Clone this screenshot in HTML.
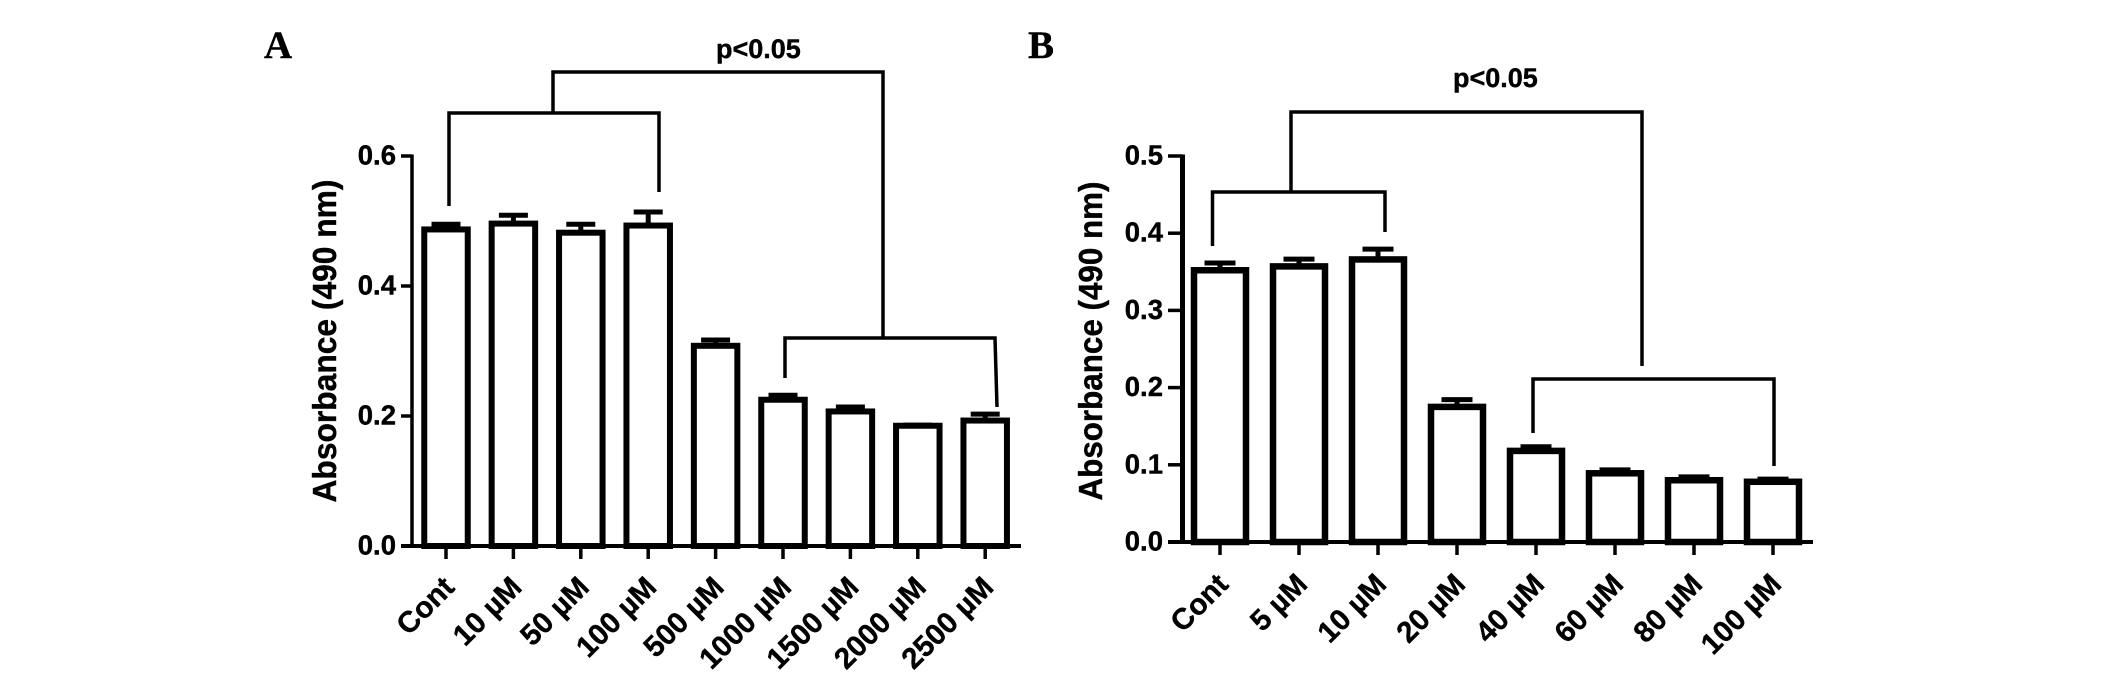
<!DOCTYPE html>
<html lang="en">
<head>
<meta charset="utf-8">
<title>Absorbance bar charts</title>
<style>
html,body{margin:0;padding:0;background:#fff;width:2126px;height:679px;overflow:hidden}
svg{display:block}
text{font-family:"Liberation Sans",Arial,sans-serif;font-weight:bold;fill:#000;stroke:#000;stroke-width:.4}
.panel{font-family:"Liberation Serif","Times New Roman",serif;font-size:39px}
.br{fill:none;stroke:#000;stroke-width:3.5}
</style>
</head>
<body>
<svg id="fig" width="2126" height="679" viewBox="0 0 2126 679" xmlns="http://www.w3.org/2000/svg">
  <text class="panel" x="264" y="58">A</text>
  <text class="panel" x="1028" y="58">B</text>

  <g id="chartA"></g>
  <g id="chartB"></g>

  <g>
    <text x="716" y="58" font-size="27">p&lt;0.05</text>
    <path class="br" d="M553 113V72H883V337"/>
    <path class="br" d="M449 206V113H659V192"/>
    <path class="br" d="M785 378V338H995L997 407"/>
  </g>
  <g>
    <text x="1453" y="87" font-size="27">p&lt;0.05</text>
    <path class="br" d="M1291 192V112H1642V366"/>
    <path class="br" d="M1212.500 246V192H1385V232"/>
    <path class="br" d="M1533 433V379H1774V466"/>
  </g>
</svg>
<script>
var categoriesA = ['Cont', '10 µM', '50 µM', '100 µM', '500 µM', '1000 µM', '1500 µM', '2000 µM', '2500 µM'];
var valuesA = [0.487, 0.496, 0.482, 0.493, 0.308, 0.225, 0.207, 0.185, 0.193];
var errorsA = [0.011, 0.016, 0.016, 0.024, 0.012, 0.010, 0.010, 0.004, 0.013];
var ticksA = [0.0, 0.2, 0.4, 0.6];
var categoriesB = ['Cont', '5 µM', '10 µM', '20 µM', '40 µM', '60 µM', '80 µM', '100 µM'];
var valuesB = [0.352, 0.357, 0.366, 0.175, 0.118, 0.089, 0.080, 0.078];
var errorsB = [0.012, 0.012, 0.016, 0.012, 0.008, 0.007, 0.007, 0.006];
var ticksB = [0.0, 0.1, 0.2, 0.3, 0.4, 0.5];
var axisTitle = 'Absorbance (490 nm)';
var NS = 'http://www.w3.org/2000/svg';

function shape(parent, tag, attrs) {
  var el = document.createElementNS(NS, tag);
  for (var k in attrs) el.setAttribute(k, attrs[k]);
  parent.appendChild(el);
  return el;
}

function drawChart(g, id, cats, vals, errs, ticks, o) {
  function xPos(i) { return o.x0 + o.step * i; }
  function yPos(v) { return o.y0 - o.yPerUnit * v; }

  cats.forEach(function (cat, i) {
    var cx = xPos(i), top = yPos(vals[i]), capY = yPos(vals[i] + errs[i]);

    var stem = shape(g, 'line', {x1: cx, x2: cx, y1: top, y2: capY, stroke: '#000', 'stroke-width': 5});
    
    

    var cap = shape(g, 'line', {x1: cx - o.capW / 2, x2: cx + o.capW / 2, y1: capY + 2, y2: capY + 2, stroke: '#000', 'stroke-width': 5});
    
    

    var bar = shape(g, 'rect', {x: cx - o.barW / 2, y: top, width: o.barW, height: o.y0 - top, fill: '#fff', stroke: '#000', 'stroke-width': o.barStroke});
    
    

    var tick = shape(g, 'line', {x1: cx, x2: cx, y1: o.y0, y2: o.y0 + 13, stroke: '#000', 'stroke-width': 3.5});
    
    

    var endX = cx + 10, endY = o.labelY;
    var label = shape(g, 'text', {x: endX, y: endY, 'font-size': 29.5, 'text-anchor': 'end', transform: 'rotate(-45 ' + endX + ' ' + endY + ')'});
    label.textContent = cat;
    
    
  });

  var yAxis = shape(g, 'line', {x1: o.axisX, x2: o.axisX, y1: yPos(ticks[ticks.length - 1]) - 1.5, y2: o.y0 + 1.5, stroke: '#000', 'stroke-width': o.axisW});
  
  

  var xAxis = shape(g, 'line', {x1: o.tickL, x2: o.xEnd, y1: o.y0, y2: o.y0, stroke: '#000', 'stroke-width': 4});
  
  

  ticks.forEach(function (t, i) {
    var y = yPos(t);
    var tm = shape(g, 'line', {x1: o.tickL, x2: o.axisX, y1: y, y2: y, stroke: '#000', 'stroke-width': 3.5});
    
    

    var tl = shape(g, 'text', {x: o.tickL - 5, y: y + 8.5, 'font-size': 27.5, 'text-anchor': 'end'});
    tl.textContent = t.toFixed(1);
    
    
  });

  var title = shape(g, 'text', {
    x: 0, y: 0, 'font-size': 33, 'text-anchor': 'middle',
    textLength: o.titleLen, lengthAdjust: 'spacingAndGlyphs',
    transform: 'translate(' + o.titleX + ' ' + o.titleY + ') rotate(-90)'
  });
  title.textContent = axisTitle;
  
  
}

drawChart(document.getElementById('chartA'), 'a', categoriesA, valuesA, errorsA, ticksA, {
  x0: 446, step: 67.4, y0: 546, yPerUnit: 650, barW: 43.5, barStroke: 6, capW: 29,
  axisX: 412, axisW: 3.5, tickL: 401, xEnd: 1021, labelY: 589,
  titleX: 336, titleY: 341, titleLen: 323
});
drawChart(document.getElementById('chartB'), 'b', categoriesB, valuesB, errorsB, ticksB, {
  x0: 1220, step: 79, y0: 542, yPerUnit: 772, barW: 52, barStroke: 6.5, capW: 31,
  axisX: 1182.5, axisW: 5, tickL: 1168, xEnd: 1813, labelY: 586,
  titleX: 1102, titleY: 341, titleLen: 319
});
</script>
</body>
</html>
